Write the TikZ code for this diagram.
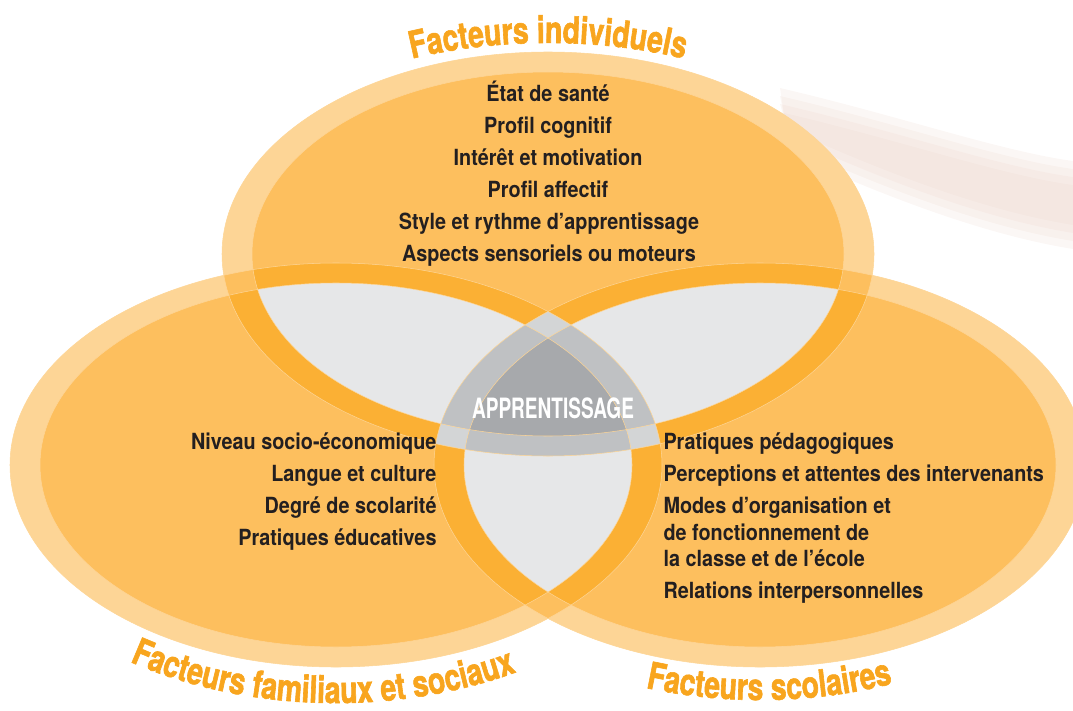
\documentclass[tikz,border=0pt]{standalone}
\usepackage{fontspec}
\setmainfont{TeX Gyre Heros}
\newfontfamily\itemfont[FakeStretch=0.89]{TeX Gyre Heros}
\newfontfamily\corefont[FakeStretch=0.68]{TeX Gyre Heros}
\newfontfamily\titlefont[FakeStretch=0.76, FakeBold=1.6]{TeX Gyre Heros}
\usetikzlibrary{decorations.text}

\definecolor{ringor}{HTML}{FDD596}
\definecolor{fillor}{HTML}{FDBF5E}
\definecolor{deepor}{HTML}{FBB034}
\definecolor{palegray}{HTML}{E6E7E8}
\definecolor{midgray}{HTML}{D3D5D6}
\definecolor{bandgray}{HTML}{BFC1C3}
\definecolor{coregray}{HTML}{A7A9AC}
\definecolor{titleor}{HTML}{F8A51E}
\definecolor{inktext}{HTML}{231F20}
\definecolor{backstreak}{HTML}{EBD3C8}

% the three factor ellipses, outer ring and inner part
\def\outT{(548,254) ellipse [x radius=326, y radius=202]}
\def\inT{(548,254) ellipse [x radius=296, y radius=182]}
\def\outL{(336,465) ellipse [x radius=326, y radius=202]}
\def\inL{(336,465) ellipse [x radius=296, y radius=182]}
\def\outR{(760,465) ellipse [x radius=326, y radius=202]}
\def\inR{(760,465) ellipse [x radius=296, y radius=182]}

\tikzset{every picture/.style={line width=0.75pt}}
\tikzset{
  itemtext/.style={font=\itemfont\bfseries\fontsize{16.7}{18}\selectfont, text=inktext, inner sep=0pt},
  coretext/.style={font=\corefont\bfseries\fontsize{21}{22}\selectfont, text=white, inner sep=0pt},
  titlepath/.style={decorate, decoration={text along path, text align=center, text color=titleor,
    text={|\titlefont\bfseries\fontsize{28}{28}\selectfont|#1}}},
  edgeline/.style={draw=ringor, line width=0.4pt},
  streak/.style={fill=backstreak, fill opacity=0.18}
}

\begin{document}
\begin{tikzpicture}[x=0.75pt,y=0.75pt,yscale=-1]
\useasboundingbox (0,0) rectangle (1073,710);

%Shape: faint background streak, soft edges
\foreach \w in {0,8,16,24}
  \fill[streak] (780,112-\w) .. controls (900,140-\w) and (1000,175-\w) .. (1073,185-\w) -- (1073,225+\w) .. controls (980,210+\w) and (880,170+\w) .. (790,130+\w) -- cycle;

%Shape: outer rings
\fill[ringor] \outT;
\fill[ringor] \outL;
\fill[ringor] \outR;
%Shape: ring over ring
\begin{scope} \clip \outT; \fill[fillor] \outL; \fill[fillor] \outR; \end{scope}
\begin{scope} \clip \outL; \fill[fillor] \outR; \end{scope}
%Shape: inner parts
\fill[fillor] \inT;
\fill[fillor] \inL;
\fill[fillor] \inR;
%Shape: ring over inner part
\begin{scope} \clip \inT; \fill[deepor] \outL; \fill[deepor] \outR; \end{scope}
\begin{scope} \clip \inL; \fill[deepor] \outT; \fill[deepor] \outR; \end{scope}
\begin{scope} \clip \inR; \fill[deepor] \outT; \fill[deepor] \outL; \end{scope}
%Shape: two rings over inner part
\begin{scope} \clip \inT; \clip \outL; \fill[midgray] \outR; \end{scope}
\begin{scope} \clip \inL; \clip \outT; \fill[midgray] \outR; \end{scope}
\begin{scope} \clip \inR; \clip \outT; \fill[midgray] \outL; \end{scope}
%Shape: inner over inner
\begin{scope} \clip \inT; \fill[palegray] \inL; \fill[palegray] \inR; \end{scope}
\begin{scope} \clip \inL; \fill[palegray] \inR; \end{scope}
%Shape: ring over two inner parts
\begin{scope} \clip \inT; \clip \inL; \fill[bandgray] \outR; \end{scope}
\begin{scope} \clip \inT; \clip \inR; \fill[bandgray] \outL; \end{scope}
\begin{scope} \clip \inL; \clip \inR; \fill[bandgray] \outT; \end{scope}
%Shape: common part
\begin{scope} \clip \inT; \clip \inL; \fill[coregray] \inR; \end{scope}
%Shape: thin edges
\draw[edgeline] \outT; \draw[edgeline] \inT;
\draw[edgeline] \outL; \draw[edgeline] \inL;
\draw[edgeline] \outR; \draw[edgeline] \inR;

% Titles
\path[titlepath={Facteurs individuels}] (548,254) ++(205:360 and 211) arc [start angle=205, end angle=335, x radius=360, y radius=211];
\path[titlepath={Facteurs familiaux et sociaux}] (336,465) ++(160:366 and 238) arc [start angle=160, end angle=26, x radius=366, y radius=238];
\path[titlepath={Facteurs scolaires}] (760,465) ++(148:360 and 235) arc [start angle=148, end angle=28, x radius=360, y radius=235];

% Text Node
\node[coretext] (apprentissage) at (553,408) {APPRENTISSAGE};

% Text Node
\node[itemtext, anchor=base] (sante) at (548,101) {État de santé};
\node[itemtext, anchor=base] (cognitif) at (548,133) {Profil cognitif};
\node[itemtext, anchor=base] (motivation) at (548,165) {Intérêt et motivation};
\node[itemtext, anchor=base] (affectif) at (548,197) {Profil affectif};
\node[itemtext, anchor=base] (rythme) at (549,229) {Style et rythme d’apprentissage};
\node[itemtext, anchor=base] (sensoriels) at (549,261) {Aspects sensoriels ou moteurs};

% Text Node
\node[itemtext, anchor=base east] (niveau) at (437,449) {Niveau socio-économique};
\node[itemtext, anchor=base east] (langue) at (437,481) {Langue et culture};
\node[itemtext, anchor=base east] (degre) at (437,513) {Degré de scolarité};
\node[itemtext, anchor=base east] (educatives) at (437,545) {Pratiques éducatives};

% Text Node
\node[itemtext, anchor=base west] (pedagogiques) at (663,449) {Pratiques pédagogiques};
\node[itemtext, anchor=base west] (perceptions) at (663,481) {Perceptions et attentes des intervenants};
\node[itemtext, anchor=base west] (modes) at (663,513) {Modes d’organisation et};
\node[itemtext, anchor=base west] (fonctionnement) at (663,540) {de fonctionnement de};
\node[itemtext, anchor=base west] (classe) at (663,566) {la classe et de l’école};
\node[itemtext, anchor=base west] (relations) at (663,598) {Relations interpersonnelles};

\end{tikzpicture}
\end{document}
